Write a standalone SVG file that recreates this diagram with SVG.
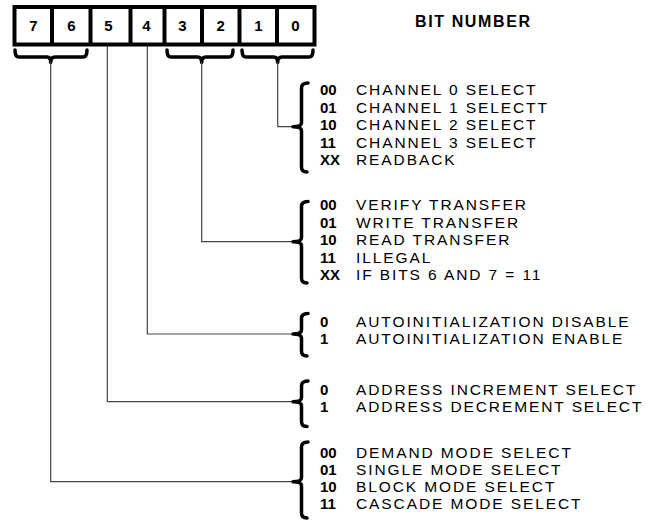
<svg xmlns="http://www.w3.org/2000/svg" width="658" height="522" viewBox="0 0 658 522">
<style>
.box{fill:#fff;stroke:#000;stroke-width:4}
.div{stroke:#000;stroke-width:4}
.bit{font-family:"Liberation Sans",Arial,sans-serif;font-weight:bold;font-size:15px;fill:#000;text-anchor:middle}
.title{font-family:"Liberation Sans",Arial,sans-serif;font-weight:bold;font-size:16px;fill:#000}
.code{font-family:"Liberation Sans",Arial,sans-serif;font-weight:bold;font-size:15px;fill:#000}
.desc{font-family:"Liberation Sans",Arial,sans-serif;font-size:15.5px;letter-spacing:1.9px;fill:#000}
.brace{fill:none;stroke:#000;stroke-width:3.5;stroke-linecap:round;stroke-linejoin:round}
.wire{fill:none;stroke:#444;stroke-width:1.2}
</style>
<rect width="658" height="522" fill="#fff"/>
<g id="register">
<rect class="box" x="14.5" y="7" width="300" height="37.5"/>
<line class="div" x1="52" y1="7" x2="52" y2="44.5"/>
<line class="div" x1="90.5" y1="7" x2="90.5" y2="44.5"/>
<line class="div" x1="130.5" y1="7" x2="130.5" y2="44.5"/>
<line class="div" x1="164.5" y1="7" x2="164.5" y2="44.5"/>
<line class="div" x1="202" y1="7" x2="202" y2="44.5"/>
<line class="div" x1="239.5" y1="7" x2="239.5" y2="44.5"/>
<line class="div" x1="277" y1="7" x2="277" y2="44.5"/>
<text class="bit" x="33.3" y="31">7</text>
<text class="bit" x="71.5" y="31">6</text>
<text class="bit" x="108.5" y="31">5</text>
<text class="bit" x="146.5" y="31">4</text>
<text class="bit" x="182.5" y="31">3</text>
<text class="bit" x="220.7" y="31">2</text>
<text class="bit" x="258.3" y="31">1</text>
<text class="bit" x="295.5" y="31">0</text>
</g>
<g id="bit-number-label">
<text class="title" x="415" y="26.5" textLength="115" lengthAdjust="spacing">BIT NUMBER</text>
</g>
<g id="bit-braces">
<path class="brace" d="M15,50 Q15,57 19,57 L47,57 Q50.7,57 50.7,62.5 Q50.7,57 55,57 L83,57 Q87,57 87,50"/>
<path class="brace" d="M167,50 Q167,57 171,57 L197.5,57 Q201.7,57 201.7,62.5 Q201.7,57 206,57 L229,57 Q233,57 233,50"/>
<path class="brace" d="M242,50 Q242,57 246,57 L273.5,57 Q277.7,57 277.7,62.5 Q277.7,57 282,57 L309,57 Q313,57 313,50"/>
</g>
<g id="connectors">
<polyline class="wire" points="277.7,62 277.7,126.7 292,126.7"/>
<polyline class="wire" points="201.7,62 201.7,241.7 292,241.7"/>
<polyline class="wire" points="147.3,46 147.3,334 292,334"/>
<polyline class="wire" points="107.3,46 107.3,401.7 292,401.7"/>
<polyline class="wire" points="50.7,62 50.7,481.7 292,481.7"/>
</g>
<g id="channel-select">
<path class="brace" d="M308,83 Q301.5,83 301.5,88 L301.5,122.7 Q301.5,126.7 293,126.7 Q301.5,126.7 301.5,130.7 L301.5,167 Q301.5,172 307,172"/>
<text class="code" x="320" y="95">00</text><text class="desc" x="356" y="95">CHANNEL 0 SELECT</text>
<text class="code" x="320" y="112.5">01</text><text class="desc" x="356" y="112.5">CHANNEL 1 SELECTT</text>
<text class="code" x="320" y="130">10</text><text class="desc" x="356" y="130">CHANNEL 2 SELECT</text>
<text class="code" x="320" y="147.5">11</text><text class="desc" x="356" y="147.5">CHANNEL 3 SELECT</text>
<text class="code" x="320" y="165">XX</text><text class="desc" x="356" y="165">READBACK</text>
</g>
<g id="transfer-type">
<path class="brace" d="M308,201.5 Q301.5,201.5 301.5,206.5 L301.5,237.7 Q301.5,241.7 293,241.7 Q301.5,241.7 301.5,245.7 L301.5,278 Q301.5,283 307,283"/>
<text class="code" x="320" y="210">00</text><text class="desc" x="356" y="210">VERIFY TRANSFER</text>
<text class="code" x="320" y="227.5">01</text><text class="desc" x="356" y="227.5">WRITE TRANSFER</text>
<text class="code" x="320" y="245">10</text><text class="desc" x="356" y="245">READ TRANSFER</text>
<text class="code" x="320" y="262.5">11</text><text class="desc" x="356" y="262.5">ILLEGAL</text>
<text class="code" x="320" y="280">XX</text><text class="desc" x="356" y="280">IF BITS 6 AND 7 = 11</text>
</g>
<g id="autoinitialization">
<path class="brace" d="M308,313.5 Q301.5,313.5 301.5,318.5 L301.5,330 Q301.5,334 293,334 Q301.5,334 301.5,338 L301.5,351 Q301.5,356 307,356"/>
<text class="code" x="320" y="327.3">0</text><text class="desc" x="356" y="327.3">AUTOINITIALIZATION DISABLE</text>
<text class="code" x="320" y="344">1</text><text class="desc" x="356" y="344">AUTOINITIALIZATION ENABLE</text>
</g>
<g id="address-direction">
<path class="brace" d="M308,381 Q301.5,381 301.5,386 L301.5,397.7 Q301.5,401.7 293,401.7 Q301.5,401.7 301.5,405.7 L301.5,421.5 Q301.5,426.5 307,426.5"/>
<text class="code" x="320" y="395">0</text><text class="desc" x="356" y="395">ADDRESS INCREMENT SELECT</text>
<text class="code" x="320" y="411.7">1</text><text class="desc" x="356" y="411.7">ADDRESS DECREMENT SELECT</text>
</g>
<g id="mode-select">
<path class="brace" d="M308,442 Q301.5,442 301.5,447 L301.5,477.7 Q301.5,481.7 293,481.7 Q301.5,481.7 301.5,485.7 L301.5,513 Q301.5,518 307,518"/>
<text class="code" x="320" y="457.5">00</text><text class="desc" x="356" y="457.5">DEMAND MODE SELECT</text>
<text class="code" x="320" y="474.5">01</text><text class="desc" x="356" y="474.5">SINGLE MODE SELECT</text>
<text class="code" x="320" y="491.5">10</text><text class="desc" x="356" y="491.5">BLOCK MODE SELECT</text>
<text class="code" x="320" y="508.5">11</text><text class="desc" x="356" y="508.5">CASCADE MODE SELECT</text>
</g>
</svg>
